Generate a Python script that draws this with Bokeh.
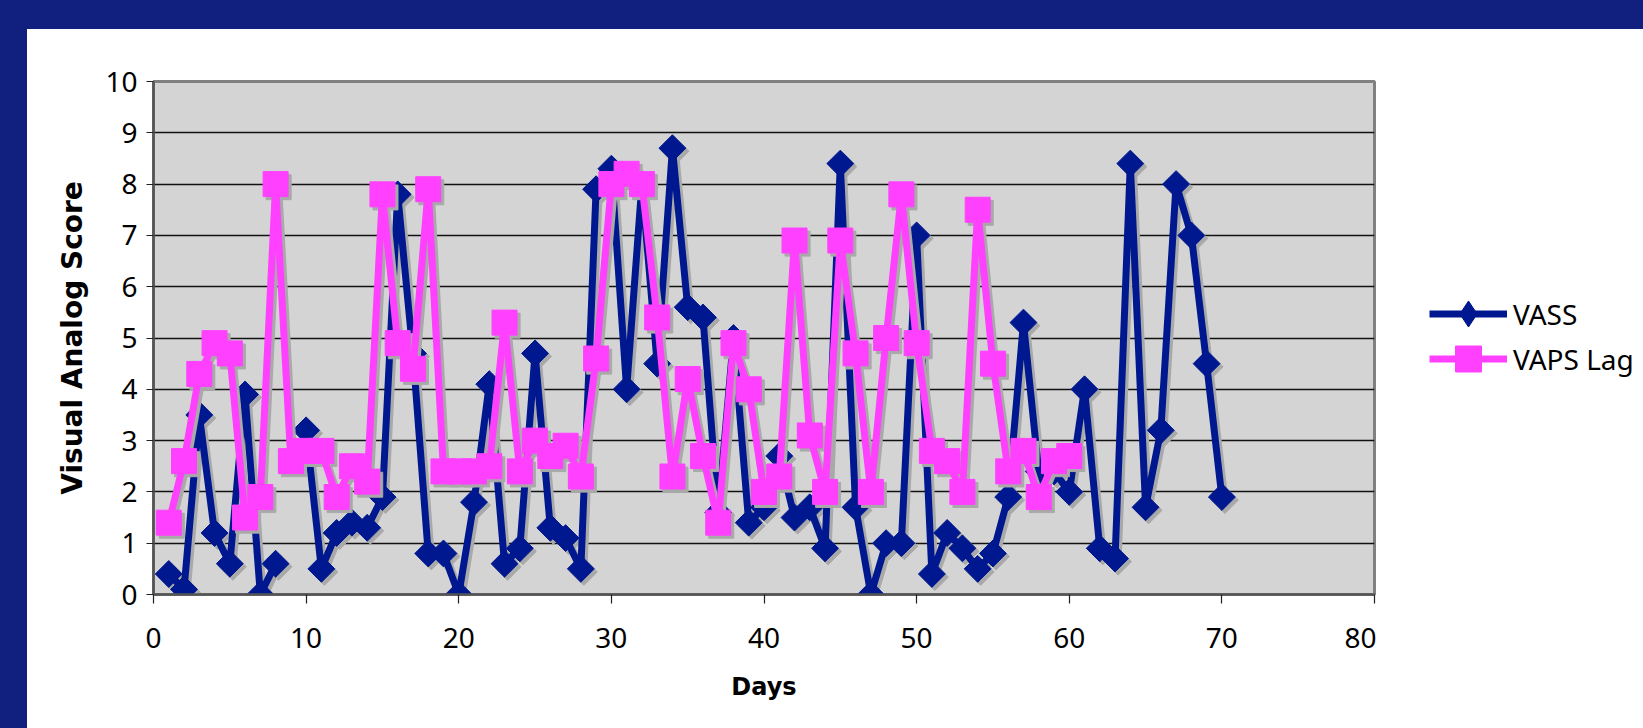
import math
from bokeh.plotting import figure
from bokeh.models import Range1d, FixedTicker, Legend, LegendItem, ColumnDataSource, Div
from bokeh.layouts import column, row
from bokeh.transform import dodge
from bokeh.embed import file_html
from bokeh.resources import INLINE

nan = float("nan")

# ---- data ----
days_vass = list(range(1, 71))
vass = [0.4, 0.1, 3.5, 1.2, 0.6, 3.9, 0.0, 0.6, nan, 3.2,
        0.5, 1.2, 1.4, 1.3, 1.9, 7.8, 4.7, 0.8, 0.8, 0.0,
        1.8, 4.1, 0.6, 0.9, 4.7, 1.3, 1.1, 0.5, 7.9, 8.3,
        4.0, 8.0, 4.5, 8.7, 5.6, 5.4, 1.6, 5.0, 1.4, 1.7,
        2.7, 1.5, 1.7, 0.9, 8.4, 1.7, 0.0, 1.0, 1.0, 7.0,
        0.4, 1.2, 0.9, 0.5, 0.8, 1.9, 5.3, 2.4, 2.4, 2.0,
        4.0, 0.9, 0.7, 8.4, 1.7, 3.2, 8.0, 7.0, 4.5, 1.9]

days_vaps = list(range(1, 61))
vaps_lag = [1.4, 2.6, 4.3, 4.9, 4.7, 1.5, 1.9, 8.0, 2.6, 2.8,
            2.8, 1.9, 2.5, 2.2, 7.8, 4.9, 4.4, 7.9, 2.4, 2.4,
            2.4, 2.5, 5.3, 2.4, 3.0, 2.7, 2.9, 2.3, 4.6, 8.0,
            8.2, 8.0, 5.4, 2.3, 4.2, 2.7, 1.4, 4.9, 4.0, 2.0,
            2.3, 6.9, 3.1, 2.0, 6.9, 4.7, 2.0, 5.0, 7.8, 4.9,
            2.8, 2.6, 2.0, 7.5, 4.5, 2.4, 2.8, 1.9, 2.6, 2.7]

x_ticks = [0, 10, 20, 30, 40, 50, 60, 70, 80]
y_ticks = [0, 1, 2, 3, 4, 5, 6, 7, 8, 9, 10]
series_names = ["VASS", "VAPS Lag"]
x_title = "Days"
y_title = "Visual Analog Score"

# ---- style ----
NAVY_FRAME = "#11207F"
VASS_COLOR = "#00188F"
VAPS_COLOR = "#FF40FF"
SHADOW = "#A9A9A9"
PLOT_BG = "#D4D4D4"
FONT = "Noto Sans"
TITLE_FONT = "DejaVu Sans"

src_vass = ColumnDataSource(dict(x=days_vass, y=vass))
src_vaps = ColumnDataSource(dict(x=days_vaps, y=vaps_lag))

# ---------------- main chart ----------------
p = figure(width=1349, height=699, output_backend="svg", toolbar_location=None,
           x_range=Range1d(0, 80), y_range=Range1d(0, 10),
           min_border_left=126, min_border_right=2,
           min_border_top=52, min_border_bottom=134, margin=0)
p.background_fill_color = PLOT_BG
p.border_fill_color = "white"
p.outline_line_color = "#808080"
p.outline_line_width = 3

p.xgrid.visible = False
p.ygrid.grid_line_color = "#111111"
p.ygrid.grid_line_width = 1.5
p.ygrid.ticker = FixedTicker(ticks=y_ticks)

p.xaxis.ticker = FixedTicker(ticks=x_ticks)
p.yaxis.ticker = FixedTicker(ticks=y_ticks)
for ax in (p.xaxis[0], p.yaxis[0]):
    ax.axis_line_color = "#555555"
    ax.axis_line_width = 2.5
    ax.major_tick_line_color = "#222222"
    ax.major_tick_line_width = 1.2
    ax.major_tick_in = 0
    ax.minor_tick_line_color = None
    ax.major_label_text_font = FONT
    ax.major_label_text_font_size = "28px"
    ax.major_label_text_color = "black"
    ax.axis_label_text_font = TITLE_FONT
    ax.axis_label_text_font_style = "bold"
    ax.axis_label_text_color = "black"
p.xaxis.axis_label_text_font_size = "24px"
p.yaxis.axis_label_text_font_size = "28px"
p.xaxis.major_tick_out = 9
p.yaxis.major_tick_out = 7
p.xaxis.major_label_standoff = 24
p.yaxis.major_label_standoff = 9
p.xaxis.axis_label = x_title
p.yaxis.axis_label = y_title
p.xaxis.axis_label_standoff = 22
p.yaxis.axis_label_standoff = 13

dx, dy = 0.2, -0.06

def add_series(src, color, marker, size, angle):
    sx = dodge("x", dx, range=p.x_range)
    sy = dodge("y", dy, range=p.y_range)
    p.line(x=sx, y=sy, source=src, line_color=SHADOW, line_width=7)
    p.scatter(x=sx, y=sy, source=src, marker=marker, size=size, angle=angle,
              fill_color=SHADOW, line_color=SHADOW)
    p.line(x="x", y="y", source=src, line_color=color, line_width=7)
    p.scatter(x="x", y="y", source=src, marker=marker, size=size, angle=angle,
              fill_color=color, line_color=color)

add_series(src_vass, VASS_COLOR, "square", 19, math.pi / 4)
add_series(src_vaps, VAPS_COLOR, "square", 25, 0)

# ---------------- legend panel (right) ----------------
# its frame is vertically aligned with the main chart's frame by the row layout
lg = figure(width=267, height=699, output_backend="svg", toolbar_location=None,
            x_range=Range1d(-100, -99), y_range=Range1d(-100, -99),
            x_axis_type=None, y_axis_type=None,
            min_border_left=0, min_border_right=0,
            min_border_top=52, min_border_bottom=134, margin=0)
lg.outline_line_color = None
lg.background_fill_color = "white"
lg.border_fill_color = "white"
lg.grid.visible = False

r1l = lg.line(x="x", y="y", source=src_vass, line_color=VASS_COLOR, line_width=7)
r1m = lg.scatter(x="x", y="y", source=src_vass, marker="diamond", size=27,
                 fill_color=VASS_COLOR, line_color=VASS_COLOR)
r2l = lg.line(x="x", y="y", source=src_vaps, line_color=VAPS_COLOR, line_width=7)
r2m = lg.scatter(x="x", y="y", source=src_vaps, marker="square", size=25,
                 fill_color=VAPS_COLOR, line_color=VAPS_COLOR)

def make_legend(label, renderers, loc):
    return Legend(items=[LegendItem(label=label, renderers=renderers)],
                  location=loc, orientation="vertical",
                  glyph_width=78, glyph_height=65, label_height=65,
                  label_standoff=6, spacing=0, padding=0, margin=0,
                  border_line_color=None, background_fill_alpha=0,
                  label_text_font=FONT, label_text_font_size="28px",
                  label_text_color="black")

lg.add_layout(make_legend(series_names[0], [r1l, r1m], (53, 248)), "center")
lg.add_layout(make_legend(series_names[1], [r2l, r2m], (53, 203)), "center")

top_band = Div(text="", width=1643, height=29, margin=0,
               styles={"background-color": NAVY_FRAME})
left_band = Div(text="", width=27, height=699, margin=0,
                styles={"background-color": NAVY_FRAME})
layout = column(top_band, row(left_band, p, lg, spacing=0, margin=0), spacing=0, margin=0)

open("out.html", "w").write(file_html(layout, INLINE))
